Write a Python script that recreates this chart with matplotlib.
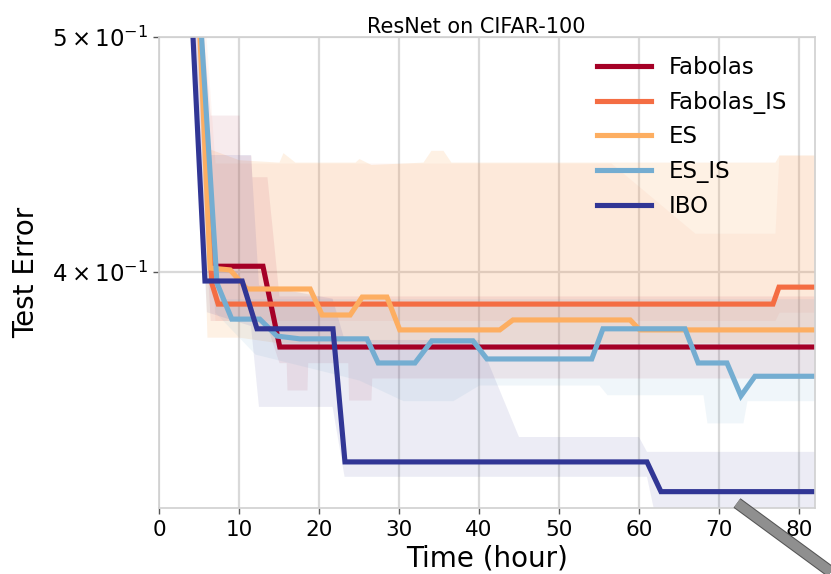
import numpy as np
import matplotlib
matplotlib.use('Agg')
import matplotlib.pyplot as plt
from matplotlib.ticker import FixedLocator, NullLocator, FixedFormatter
from matplotlib.lines import Line2D
import matplotlib.patheffects as pe

# mean curves (time in hours, test error)
fab_t = [5.0, 6.6, 13.0, 15.1, 82.0]
fab_y = [0.52, 0.4022, 0.4022, 0.3725, 0.3725]

fabis_t = [5.0, 6.6, 7.4, 76.75, 77.5, 82.0]
fabis_y = [0.52, 0.3958, 0.3880, 0.3880, 0.3943, 0.3943]

es_t = [4.9, 6.4, 8.9, 11.0, 18.9, 20.4, 23.9, 25.4, 28.5, 30.1, 42.6, 44.25, 58.9, 60.1, 82.0]
es_y = [0.52, 0.4015, 0.4008, 0.3936, 0.3936, 0.3840, 0.3840, 0.3906, 0.3906, 0.3786,
        0.3786, 0.3822, 0.3822, 0.3786, 0.3786]

esis_t = [5.0, 7.25, 9.1, 12.6, 14.75, 17.6, 26.0, 27.4, 32.0, 34.1, 39.25, 41.0, 54.1,
          55.5, 65.75, 67.4, 71.0, 72.75, 74.5, 82.0]
esis_y = [0.52, 0.3958, 0.3825, 0.3825, 0.3764, 0.3754, 0.3754, 0.3669, 0.3669, 0.3747,
          0.3747, 0.3683, 0.3683, 0.3790, 0.3790, 0.3669, 0.3669, 0.3556, 0.3623, 0.3623]

ibo_t = [4.0, 5.75, 10.4, 12.25, 21.75, 23.25, 61.0, 62.75, 82.0]
ibo_y = [0.52, 0.3966, 0.3966, 0.3790, 0.3790, 0.3340, 0.3340, 0.3247, 0.3247]

# shaded spread around each curve
fab_band_t = [4.5, 6.4, 10.0, 10.1, 11.5, 11.6, 13.5, 15.0, 15.9, 16.0, 18.5, 18.6,
              23.6, 23.7, 26.5, 26.6, 82.0]
fab_band_lo = [0.50, 0.382, 0.382, 0.382, 0.382, 0.382, 0.38, 0.367, 0.367, 0.3576,
               0.3576, 0.367, 0.367, 0.3542, 0.3542, 0.3617, 0.3617]
fab_band_hi = [0.55, 0.4643, 0.4643, 0.447, 0.447, 0.4379, 0.4379, 0.391, 0.391, 0.391,
               0.391, 0.391, 0.391, 0.391, 0.391, 0.391, 0.391]

fabis_band_t = [5.0, 7.0, 56.5, 67.0, 77.0, 77.5, 82.0]
fabis_band_lo = [0.50, 0.382, 0.382, 0.382, 0.382, 0.385, 0.385]
fabis_band_hi = [0.55, 0.4436, 0.4436, 0.415, 0.415, 0.447, 0.447]

es_band_t = [4.9, 6.0, 10.0, 15.0, 15.5, 17.0, 24.5, 25.0, 26.5, 33.0, 34.0, 35.5, 36.5,
             77.0, 77.5, 82.0]
es_band_lo = [0.50, 0.376, 0.376, 0.374, 0.374, 0.374, 0.374, 0.374, 0.374, 0.374,
              0.374, 0.374, 0.374, 0.374, 0.374, 0.374]
es_band_hi = [0.55, 0.45, 0.445, 0.444, 0.448, 0.444, 0.444, 0.4455, 0.443, 0.444,
              0.449, 0.449, 0.444, 0.444, 0.447, 0.447]

esis_band_t = [5.0, 7.0, 12.0, 25.0, 30.5, 36.75, 40.0, 55.0, 56.0, 68.0, 68.5, 73.0, 73.5, 82.0]
esis_band_lo = [0.50, 0.385, 0.37, 0.361, 0.354, 0.354, 0.3593, 0.3593, 0.356, 0.356,
                0.3466, 0.3466, 0.354, 0.354]
esis_band_hi = [0.55, 0.39, 0.39, 0.39, 0.39, 0.39, 0.39, 0.39, 0.39, 0.39, 0.39, 0.39,
                0.39, 0.39]

ibo_band_t = [4.0, 6.0, 11.5, 12.5, 21.7, 23.2, 40.0, 45.0, 60.0, 61.0, 62.7, 82.0]
ibo_band_lo = [0.50, 0.385, 0.38, 0.3519, 0.3519, 0.3293, 0.3293, 0.3293, 0.3293, 0.3293,
               0.31, 0.31]
ibo_band_hi = [0.55, 0.447, 0.447, 0.395, 0.39, 0.375, 0.375, 0.342, 0.342, 0.3372,
               0.3372, 0.3372]

names = ['Fabolas', 'Fabolas_IS', 'ES', 'ES_IS', 'IBO']
colors = ['#a50026', '#f46d43', '#fdae61', '#74add1', '#313695']
y_ticks = [0.4, 0.5]
y_tick_labels = [r'$4\times10^{-1}$', r'$5\times10^{-1}$']
x_ticks = [0, 10, 20, 30, 40, 50, 60, 70, 80]

fig = plt.figure(figsize=(8.31, 5.74), dpi=100)
ax = fig.add_axes([0.1913, 0.115, 0.7894, 0.8205])

bands = [(es_band_t, es_band_lo, es_band_hi, colors[2], 0.17),
         (fabis_band_t, fabis_band_lo, fabis_band_hi, colors[1], 0.06),
         (fab_band_t, fab_band_lo, fab_band_hi, colors[0], 0.08),
         (esis_band_t, esis_band_lo, esis_band_hi, colors[3], 0.1),
         (ibo_band_t, ibo_band_lo, ibo_band_hi, colors[4], 0.09)]
for bt, lo, hi, c, a in bands:
    ax.fill_between(bt, lo, hi, color=c, alpha=a, lw=0)

curves = [(fab_t, fab_y), (fabis_t, fabis_y), (es_t, es_y), (esis_t, esis_y), (ibo_t, ibo_y)]
for (t, y), name, c in zip(curves, names, colors):
    ax.plot(t, y, color=c, lw=3.7, label=name, solid_joinstyle='miter')

ax.set_yscale('log')
ax.set_xlim(0, 82)
ax.set_ylim(0.3197, 0.5)
ax.yaxis.set_major_locator(FixedLocator(y_ticks))
ax.yaxis.set_major_formatter(FixedFormatter(y_tick_labels))
ax.yaxis.set_minor_locator(NullLocator())
ax.set_xticks(x_ticks)

ax.grid(True, color='#d9d9d9', lw=1.6)
ax.set_axisbelow(True)
for s in ax.spines.values():
    s.set_color('#d0d0d0')
    s.set_linewidth(1.2)
ax.tick_params(axis='x', labelsize=15.5, color='#555555', length=4, width=1, pad=5)
ax.tick_params(axis='y', labelsize=16.5, color='#555555', length=4, width=1)

ax.set_title('ResNet on CIFAR-100', fontsize=15, pad=3, x=0.483)
ax.set_xlabel('Time (hour)', fontsize=20, labelpad=3)
ax.set_ylabel('Test Error', fontsize=20, labelpad=9)

ax.legend(loc='upper right', bbox_to_anchor=(0.972, 0.979), borderaxespad=0,
          frameon=False, fontsize=16.5, handlelength=2.36, labelspacing=0.51,
          handletextpad=0.8)

# grey stylus bar in the lower right corner of the screenshot
bar = Line2D([737 / 831, 1.0], [1 - 503 / 574, 1 - 572 / 574], transform=fig.transFigure,
             color='#8f8f8f', lw=7, solid_capstyle='butt',
             path_effects=[pe.Stroke(linewidth=8.5, foreground='#555555'), pe.Normal()])
fig.add_artist(bar)

fig.savefig('out.png', dpi=100)
